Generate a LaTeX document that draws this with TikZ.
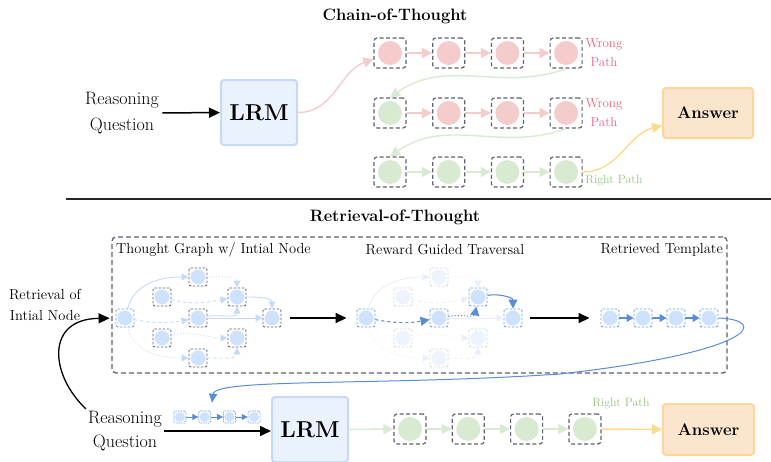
\documentclass[tikz,border=0pt]{standalone}
\usepackage{fontspec}
\usepackage{xcolor}
\usepackage{tikz}
\usetikzlibrary{arrows.meta,calc,positioning}

\definecolor{lrmfill}{RGB}{234,242,254}
\definecolor{lrmline}{RGB}{196,218,248}
\definecolor{nodeblue}{RGB}{207,226,253}
\definecolor{fadeblue}{RGB}{238,244,254}
\definecolor{dashgray}{RGB}{95,99,112}
\definecolor{fadegray}{RGB}{212,212,216}
\definecolor{dashblue}{RGB}{109,158,235}
\definecolor{deepblue}{RGB}{91,141,214}
\definecolor{edgeblue}{RGB}{196,218,248}
\definecolor{fadeedge}{RGB}{232,239,252}
\definecolor{wrongred}{RGB}{244,204,204}
\definecolor{wrongtext}{RGB}{232,100,125}
\definecolor{rightgreen}{RGB}{217,234,211}
\definecolor{righttext}{RGB}{147,196,125}
\definecolor{ansline}{RGB}{255,217,142}
\definecolor{ansfill}{RGB}{252,229,205}
\definecolor{ansborder}{RGB}{255,213,153}

\tikzset{
	cot node/.style={draw=dashgray, dash pattern=on 4pt off 2.5pt, line width=1.2pt,
		rounded corners=3pt, minimum width=32pt, minimum height=30pt, inner sep=0pt,
		path picture={\fill[#1] (path picture bounding box.center) circle (12pt);}},
	g node/.style={draw=dashgray, dash pattern=on 2.5pt off 1.5pt, line width=.9pt,
		rounded corners=2pt, minimum size=18pt, inner sep=0pt,
		path picture={\fill[#1] (path picture bounding box.center) circle (7.5pt);}},
	g node/.default=nodeblue,
	tiny node/.style={draw=dashblue, dash pattern=on 1.5pt off 1pt, line width=.7pt,
		rounded corners=1.5pt, minimum size=12pt, inner sep=0pt,
		path picture={\fill[nodeblue] (path picture bounding box.center) circle (5pt);}},
	big box/.style={line width=2pt, rounded corners=3pt, inner sep=0pt},
	lbl/.style={inner sep=0pt, font=\fontsize{14.5}{21}\selectfont},
}

\begin{document}
\begin{tikzpicture}[x=1pt, y=-1pt, node distance=58.7pt,
	>={Triangle[length=11pt,width=10pt]}]
	\tikzstyle{soft}=[->, color=edgeblue, line width=.9pt, >={Triangle[length=7pt,width=7pt]}]
	\tikzstyle{faded}=[->, color=fadeedge, line width=.9pt, >={Triangle[length=7pt,width=7pt]}]
	\tikzstyle{picked}=[->, color=deepblue, line width=1.1pt, >={Triangle[length=9pt,width=9pt]}]
	\tikzstyle{chain}=[->, line width=1.4pt, >={Triangle[length=10pt,width=10pt]}]
	\useasboundingbox (0,0) rectangle (771,461);

	% Chain-of-Thought
	\node[font=\fontsize{16.5}{19}\selectfont\bfseries] (cot) at (395,16) {Chain-of-Thought};
	\node[align=center, font=\fontsize{18}{26}\selectfont] (rq) at (122,113) {Reasoning\\Question};
	\node[big box, draw=lrmline, fill=lrmfill, minimum width=76pt, minimum height=65pt,
		font=\fontsize{23}{28}\selectfont\bfseries] (lrm) at (259,112.5) {LRM};

	\node[cot node=wrongred] (a1) at (390,53) {};
	\node[cot node=wrongred] [right of=a1] (a2) {};
	\node[cot node=wrongred] [right of=a2] (a3) {};
	\node[cot node=wrongred] [right of=a3] (a4) {};

	\node[cot node=rightgreen] (b1) at (390,113) {};
	\node[cot node=wrongred] [right of=b1] (b2) {};
	\node[cot node=wrongred] [right of=b2] (b3) {};
	\node[cot node=wrongred] [right of=b3] (b4) {};

	\node[cot node=rightgreen] (c1) at (390,172) {};
	\node[cot node=rightgreen] [right of=c1] (c2) {};
	\node[cot node=rightgreen] [right of=c2] (c3) {};
	\node[cot node=rightgreen] [right of=c3] (c4) {};

	\node[big box, draw=ansborder, fill=ansfill, minimum width=90pt, minimum height=50pt,
		font=\fontsize{16.8}{19}\selectfont\bfseries] (ans) at (708,113) {Answer};

	\node[text=wrongtext, align=center, font=\fontsize{13}{19}\selectfont] (w1) at (604,53) {Wrong\\Path};
	\node[text=wrongtext, align=center, font=\fontsize{13}{19}\selectfont] (w2) at (604,113) {Wrong\\Path};
	\node[text=righttext, font=\fontsize{12}{14}\selectfont] (r1) at (614,181) {Right Path};

	\draw[->, line width=1.5pt] (rq) -- (lrm);

	\path[chain, color=wrongred]
	(lrm) edge[out=0, in=200] (a1)
	(a1) edge (a2) (a2) edge (a3) (a3) edge (a4)
	(b1) edge (b2) (b2) edge (b3) (b3) edge (b4)
	;

	\path[chain, color=rightgreen]
	(a4.south) edge[out=200, in=35] (b1.north)
	(b4.south) edge[out=200, in=35] (c1.north)
	(c1) edge (c2) (c2) edge (c3) (c3) edge (c4)
	;

	\draw[chain, color=ansline] (c4) to[out=0, in=195] (ans);

	\draw[line width=2pt, black!85] (66,199) -- (771,199);

	% Retrieval-of-Thought
	\node[font=\fontsize{16.5}{19}\selectfont\bfseries] (rot) at (395,217) {Retrieval-of-Thought};
	\node[draw=dashgray, dash pattern=on 5pt off 3pt, line width=1.3pt, rounded corners=4pt,
		minimum width=615pt, minimum height=136pt] (rotbox) at (419.5,305) {};
	\node[lbl, anchor=west] (l1) at (116,250) {Thought Graph w/ Intial Node};
	\node[lbl] (l2) at (445,250) {Reward Guided Traversal};
	\node[lbl, anchor=east] (l3) at (723,250) {Retrieved Template};
	\node[lbl, align=center] (ri) at (45,305) {Retrieval of\\Intial Node};

	% thought graph
	\node[g node, draw=dashblue] (g1i) at (125,318) {};
	\node[g node] (g1a) at (198,277) {};
	\node[g node] (g1b) at (162,297) {};
	\node[g node] (g1c) at (237,297) {};
	\node[g node] (g1d) at (198,318) {};
	\node[g node] (g1e) at (272,318) {};
	\node[g node] (g1f) at (162,338) {};
	\node[g node] (g1g) at (237,338) {};
	\node[g node] (g1h) at (198,358) {};

	\path[soft]
	(g1i) edge[out=75, in=180] (g1a)
	(g1i) edge[dashed, out=-10, in=190] (g1d)
	(g1i) edge[dotted, out=-75, in=180] (g1h)
	(g1a) edge[dotted, out=0, in=90] (g1c)
	(g1b) edge[dashed, out=-15, in=190] (g1c)
	(g1d) edge[out=10, in=-90] (g1c)
	(g1d) edge (g1e)
	(g1c) edge[out=0, in=90] (g1e)
	(g1f) edge[dotted, out=15, in=180] (g1g)
	(g1h) edge[dashed, out=0, in=-90] (g1g)
	;

	% reward guided traversal
	\begin{scope}[xshift=241pt]
		\node[g node, draw=dashblue] (g2i) at (125,318) {};
		\node[g node=fadeblue, draw=fadegray] (g2a) at (198,277) {};
		\node[g node=fadeblue, draw=fadegray] (g2b) at (162,297) {};
		\node[g node, draw=dashblue] (g2c) at (237,297) {};
		\node[g node, draw=dashblue] (g2d) at (198,318) {};
		\node[g node, draw=dashblue] (g2e) at (272,318) {};
		\node[g node=fadeblue, draw=fadegray] (g2f) at (162,338) {};
		\node[g node=fadeblue, draw=fadegray] (g2g) at (237,338) {};
		\node[g node=fadeblue, draw=fadegray] (g2h) at (198,358) {};
	\end{scope}

	\path[faded]
	(g2i) edge[out=75, in=180] (g2a)
	(g2i) edge[dotted, out=-75, in=180] (g2h)
	(g2a) edge[dotted, out=0, in=90] (g2c)
	(g2b) edge[dashed, out=-15, in=190] (g2c)
	(g2d) edge (g2e)
	(g2f) edge[dotted, out=15, in=180] (g2g)
	(g2h) edge[dashed, out=0, in=-90] (g2g)
	;

	\path[picked]
	(g2i) edge[dashed, out=-10, in=190] (g2d)
	(g2d) edge[dotted, out=10, in=-100] (g2c)
	(g2c) edge[out=10, in=90] (g2e)
	;

	% retrieved template
	\node[g node, draw=dashblue] (t1) at (610,318) {};
	\node[g node, draw=dashblue, right of=t1, node distance=33pt] (t2) {};
	\node[g node, draw=dashblue, right of=t2, node distance=33pt] (t3) {};
	\node[g node, draw=dashblue, right of=t3, node distance=33pt] (t4) {};

	\path[picked, >={Triangle[length=7pt,width=8pt]}]
	(t1) edge (t2) (t2) edge (t3) (t3) edge (t4);

	\draw[->, line width=1.5pt, shorten <=9pt, shorten >=10pt] (g1e) -- (g2i);
	\draw[->, line width=1.5pt, shorten <=8pt, shorten >=11pt] (g2e) -- (t1);

	% bottom row
	\node[align=center, font=\fontsize{18}{24}\selectfont, inner sep=2pt] (rq2) at (125,431) {Reasoning\\Question};
	\node[tiny node] (s1) at (180,417) {};
	\node[tiny node, right of=s1, node distance=24.7pt] (s2) {};
	\node[tiny node, right of=s2, node distance=24.7pt] (s3) {};
	\node[tiny node, right of=s3, node distance=24.7pt] (s4) {};
	\path[picked, line width=.8pt, >={Triangle[length=6pt,width=6pt]}]
	(s1) edge (s2) (s2) edge (s3) (s3) edge (s4);

	\node[big box, draw=lrmline, fill=lrmfill, minimum width=76pt, minimum height=65pt,
		font=\fontsize{23}{28}\selectfont\bfseries] (lrm2) at (310,429.5) {LRM};

	\node[cot node=rightgreen] (d1) at (410,429) {};
	\node[cot node=rightgreen, right of=d1, node distance=58.3pt] (d2) {};
	\node[cot node=rightgreen, right of=d2, node distance=58.3pt] (d3) {};
	\node[cot node=rightgreen, right of=d3, node distance=58.3pt] (d4) {};
	\node[text=righttext, font=\fontsize{12}{14}\selectfont] (r2) at (621,404) {Right Path};

	\node[big box, draw=ansborder, fill=ansfill, minimum width=91pt, minimum height=51pt,
		font=\fontsize{16.8}{19}\selectfont\bfseries] (ans2) at (708.5,429.5) {Answer};

	\draw[->, line width=1.5pt] (rq2.east) -- (lrm2.west |- rq2.east);
	\path[chain, color=rightgreen]
	(lrm2) edge (d1) (d1) edge (d2) (d2) edge (d3) (d3) edge (d4);
	\draw[chain, color=ansline] (d4) -- (ans2);

	\draw[->, line width=1.3pt, shorten >=6pt] (rq2.north west) .. controls (50,375) and (45,319) .. (g1i);
	\draw[->, color=deepblue, line width=1pt, shorten >=8pt,
		>={Triangle[length=9pt,width=8pt]}]
	(t4.east) .. controls (770,320) and (755,352) .. (560,374)
	.. controls (380,386) and (215,378) .. (s2.north east);
\end{tikzpicture}
\end{document}
